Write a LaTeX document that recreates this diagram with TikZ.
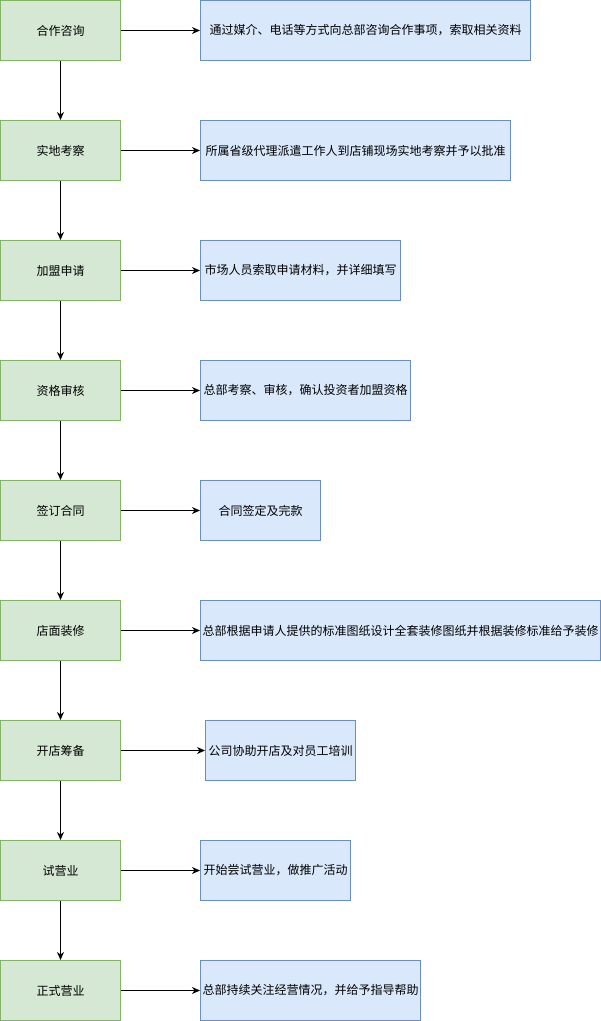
\documentclass[tikz,border=0pt]{standalone}
\usepackage{fontspec}
\setmainfont{Noto Sans CJK SC}
\usetikzlibrary{arrows.meta}
\definecolor{gfill}{HTML}{D5E8D4}
\definecolor{gline}{HTML}{82B366}
\definecolor{bfill}{HTML}{DAE8FC}
\definecolor{bline}{HTML}{6C8EBF}
\begin{document}
\begin{tikzpicture}[x=1pt,y=-1pt,
  stepbox/.style={draw=gline,fill=gfill,line width=1pt,minimum width=120pt,minimum height=60pt,inner sep=0pt,font=\fontsize{12}{14}\selectfont},
  descbox/.style={draw=bline,fill=bfill,line width=1pt,minimum height=60pt,inner sep=0pt,font=\fontsize{12}{14}\selectfont},
  conn/.style={line width=1pt,-{Stealth[length=8pt,width=7pt,inset=2.5pt]}}]
\useasboundingbox (0,0) rectangle (601,1021);
\foreach \i/\t in {0/合作咨询,1/实地考察,2/加盟申请,3/资格审核,4/签订合同,5/店面装修,6/开店筹备,7/试营业,8/正式营业}{
  \node[stepbox] (s\i) at (60.5,{30.5+120*\i}) {\t};
}
\node[descbox,minimum width=330pt] (d0) at (365.5,30.5) {通过媒介、电话等方式向总部咨询合作事项，索取相关资料};
\node[descbox,minimum width=310pt] (d1) at (355.5,150.5) {所属省级代理派遣工作人到店铺现场实地考察并予以批准};
\node[descbox,minimum width=200pt] (d2) at (300.5,270.5) {市场人员索取申请材料，并详细填写};
\node[descbox,minimum width=210pt] (d3) at (305.5,390.5) {总部考察、审核，确认投资者加盟资格};
\node[descbox,minimum width=120pt] (d4) at (260.5,510.5) {合同签定及完款};
\node[descbox,minimum width=400pt] (d5) at (400.5,630.5) {总部根据申请人提供的标准图纸设计全套装修图纸并根据装修标准给予装修};
\node[descbox,minimum width=150pt] (d6) at (280.5,750.5) {公司协助开店及对员工培训};
\node[descbox,minimum width=150pt] (d7) at (275.5,870.5) {开始尝试营业，做推广活动};
\node[descbox,minimum width=220pt] (d8) at (310.5,990.5) {总部持续关注经营情况，并给予指导帮助};
\foreach \i in {0,...,8}{ \draw[conn] (s\i.east) -- (d\i.west); }
\foreach \i [evaluate=\i as \j using int(\i+1)] in {0,...,7}{ \draw[conn] (s\i.south) -- (s\j.north); }
\end{tikzpicture}
\end{document}
